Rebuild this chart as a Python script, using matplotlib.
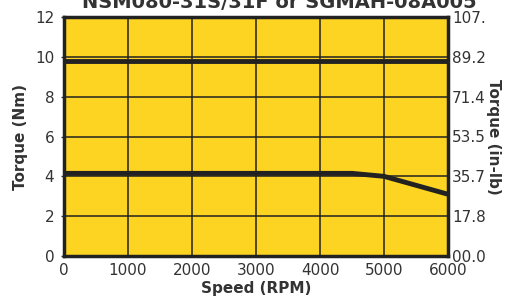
import numpy as np
import matplotlib.pyplot as plt

# Datos
vel_pico = [0, 6000]
par_pico = [9.8, 9.8]

vel_cont = [0, 4500, 5000, 6000]
par_cont = [4.15, 4.15, 4.0, 3.1]

ticks_nm = [0, 2, 4, 6, 8, 10, 12]
etiquetas_inlb = ["00.0", "17.8", "35.7", "53.5", "71.4", "89.2", "107."]
ticks_rpm = [0, 1000, 2000, 3000, 4000, 5000, 6000]

AMARILLO = "#fdd421"
NEGRO = "#222222"
GRIS = "#333333"
FUENTE_TICKS = ["Liberation Sans Narrow", "DejaVu Sans"]

fig = plt.figure(figsize=(5.07, 3.08), dpi=100)
ax = fig.add_axes([64 / 507, 1 - 256 / 308, 384 / 507, 239 / 308])
ax.set_facecolor(AMARILLO)

ax.plot(vel_pico, par_pico, color=NEGRO, lw=3.5, solid_capstyle="butt", zorder=3)
ax.plot(vel_cont, par_cont, color=NEGRO, lw=3.5, solid_capstyle="butt",
        solid_joinstyle="miter", zorder=3)

ax.set_xlim(0, 6000)
ax.set_ylim(0, 12)
ax.set_xticks(ticks_rpm)
ax.set_yticks(ticks_nm)
ax.grid(True, color=NEGRO, lw=1.1)
ax.tick_params(axis="both", length=0, labelsize=11, colors=GRIS, pad=5)
ax.tick_params(axis="y", length=2, width=1)
for s in ax.spines.values():
    s.set_linewidth(2.5)
    s.set_color(NEGRO)

ax2 = ax.twinx()
ax2.set_ylim(0, 12)
ax2.set_yticks(ticks_nm)
ax2.set_yticklabels(etiquetas_inlb)
ax2.tick_params(axis="y", length=0, labelsize=11, colors=GRIS, pad=3)
for s in ax2.spines.values():
    s.set_visible(False)

for t in ax.get_xticklabels() + ax.get_yticklabels() + ax2.get_yticklabels():
    t.set_family(FUENTE_TICKS)

ax.set_xlabel("Speed (RPM)", fontsize=11, fontweight="bold", color=GRIS, labelpad=2)
ax.set_ylabel("Torque (Nm)", fontsize=11, fontweight="bold", color=GRIS, labelpad=5)
ax2.set_ylabel("Torque (in-lb)", fontsize=11, fontweight="bold", color=GRIS,
               rotation=270, labelpad=11)

# Titulo cortado en la parte superior
fig.text(0.55, 1 - 8 / 308, "NSM080-31S/31F or SGMAH-08A005", ha="center",
         va="baseline", fontsize=14, fontweight="bold", color=GRIS)

fig.savefig("out.png", dpi=100)
